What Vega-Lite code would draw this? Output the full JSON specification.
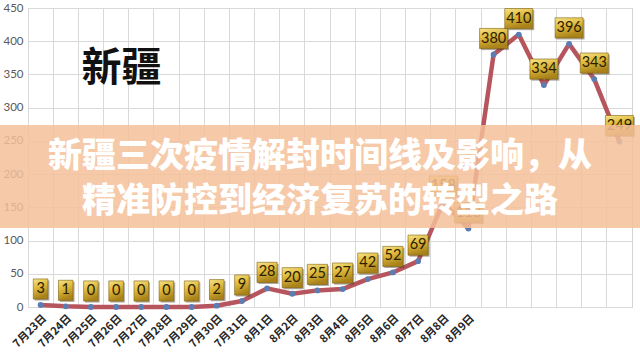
{
  "$schema": "https://vega.github.io/schema/vega-lite/v6.json",
  "width": 604,
  "height": 299,
  "autosize": {"type": "none"},
  "padding": {"left": 28, "top": 8, "right": 8, "bottom": 47},
  "background": "white",
  "config": {
    "view": {"stroke": "#d4d4d4", "strokeWidth": 1},
    "axisY": {
      "orient": "left", "title": null, "domain": false, "ticks": false, "grid": true,
      "gridColor": "#d9d9d9", "labelOverlap": false,
      "labelFont": "Lato", "labelFontSize": 11.5, "labelColor": "#595959", "labelPadding": 5
    }
  },
  "layer": [
    {
      "data": {"values": [
        {"d": "7月23日", "v": 3}, {"d": "7月24日", "v": 1}, {"d": "7月25日", "v": 0},
        {"d": "7月26日", "v": 0}, {"d": "7月27日", "v": 0}, {"d": "7月28日", "v": 0},
        {"d": "7月29日", "v": 0}, {"d": "7月30日", "v": 2}, {"d": "7月31日", "v": 9},
        {"d": "8月1日", "v": 28}, {"d": "8月2日", "v": 20}, {"d": "8月3日", "v": 25},
        {"d": "8月4日", "v": 27}, {"d": "8月5日", "v": 42}, {"d": "8月6日", "v": 52},
        {"d": "8月7日", "v": 69}, {"d": "8月8日", "v": 158}, {"d": "8月9日", "v": 118},
        {"d": "8月10日", "v": 380}, {"d": "8月11日", "v": 410}, {"d": "8月12日", "v": 334},
        {"d": "8月13日", "v": 396}, {"d": "8月14日", "v": 343}, {"d": "8月15日", "v": 249}
      ]},
      "encoding": {
        "x": {
          "field": "d", "type": "nominal", "sort": null,
          "scale": {"type": "band", "paddingInner": 0, "paddingOuter": 0},
          "axis": {
            "orient": "bottom",
            "title": null, "domain": false, "ticks": false, "grid": true, "bandPosition": 0,
            "gridColor": "#d9d9d9", "gridWidth": 1,
            "labelAngle": -45, "labelFont": "Noto Sans CJK SC", "labelFontSize": 11,
            "labelFontWeight": "bold", "labelColor": "#262626", "labelPadding": 5,
            "labelOverlap": false,
            "labelExpr": "indexof(datum.value, '8月') == 0 && length(datum.value) == 5 ? '' : datum.label"
          }
        },
        "y": {
          "field": "v", "type": "quantitative",
          "scale": {"domain": [0, 450], "nice": false, "zero": true},
          "axis": {"values": [0, 50, 100, 150, 200, 250, 300, 350, 400, 450]}
        }
      },
      "layer": [
        {"mark": {"type": "line", "color": "#b7555e", "strokeWidth": 4.5, "strokeJoin": "round"}},
        {"mark": {"type": "point", "filled": true, "color": "#5a7eb4", "size": 34, "opacity": 1}},
        {
          "mark": {"type": "point", "filled": true, "fill": "#3a3020", "opacity": 0.4, "size": 784, "xOffset": 1.5, "yOffset": -14.5, "strokeWidth": 0},
          "encoding": {
            "shape": {"condition": [
              {"test": "datum.v >= 100", "value": "M-1,-0.72H1V0.72H-1Z"},
              {"test": "datum.v >= 10", "value": "M-0.72,-0.72H0.72V0.72H-0.72Z"}
            ], "value": "M-0.52,-0.72H0.52V0.72H-0.52Z"}
          }
        },
        {
          "mark": {
            "type": "point", "filled": true, "opacity": 1, "size": 784, "yOffset": -16,
            "fill": {"gradient": "linear", "x1": 0, "y1": 0, "x2": 0.3, "y2": 1,
              "stops": [{"offset": 0, "color": "#f6e38a"}, {"offset": 0.45, "color": "#e0bb3e"}, {"offset": 1, "color": "#a9821a"}]},
            "stroke": "#7d5f0c", "strokeWidth": 0.6
          },
          "encoding": {
            "shape": {"condition": [
              {"test": "datum.v >= 100", "value": "M-1,-0.72H1V0.72H-1Z"},
              {"test": "datum.v >= 10", "value": "M-0.72,-0.72H0.72V0.72H-0.72Z"}
            ], "value": "M-0.52,-0.72H0.52V0.72H-0.52Z"}
          }
        },
        {
          "mark": {"type": "text", "font": "Lato", "fontSize": 14.5, "color": "#2a2000", "dy": -16, "baseline": "middle", "align": "center"},
          "encoding": {"text": {"field": "v", "type": "quantitative"}}
        }
      ]
    },
    {
      "data": {"values": [{"t": "新疆"}]},
      "mark": {"type": "text", "font": "Noto Sans CJK SC", "fontWeight": "bold", "fontSize": 40, "color": "#111111", "align": "center", "baseline": "middle"},
      "encoding": {
        "x": {"datum": 15.5, "type": "quantitative", "scale": {"domain": [0, 100], "nice": false, "zero": false}, "axis": null},
        "y": {"datum": 358, "type": "quantitative", "axis": {"values": [0, 50, 100, 150, 200, 250, 300, 350, 400, 450]}},
        "text": {"field": "t"}
      }
    },
    {
      "data": {"values": [{}]},
      "mark": {"type": "rect", "fill": "#f4bf99", "opacity": 0.85},
      "encoding": {
        "x": {"datum": -4.64, "type": "quantitative", "scale": {"domain": [0, 100], "nice": false, "zero": false}, "axis": null},
        "x2": {"datum": 101.33},
        "y": {"datum": 119, "type": "quantitative", "axis": {"values": [0, 50, 100, 150, 200, 250, 300, 350, 400, 450]}},
        "y2": {"datum": 274}
      }
    },
    {
      "data": {"values": [{"t": "新疆三次疫情解封时间线及影响，从\n精准防控到经济复苏的转型之路"}]},
      "mark": {"type": "text", "font": "Noto Sans CJK SC", "fontWeight": 900, "fontSize": 34, "color": "#ffffff", "align": "center", "baseline": "middle", "lineBreak": "\n", "lineHeight": 45},
      "encoding": {
        "x": {"datum": 48.34, "type": "quantitative", "scale": {"domain": [0, 100], "nice": false, "zero": false}, "axis": null},
        "y": {"datum": 225.8, "type": "quantitative", "axis": {"values": [0, 50, 100, 150, 200, 250, 300, 350, 400, 450]}},
        "text": {"field": "t"}
      }
    }
  ],
  "resolve": {"scale": {"x": "independent"}}
}
